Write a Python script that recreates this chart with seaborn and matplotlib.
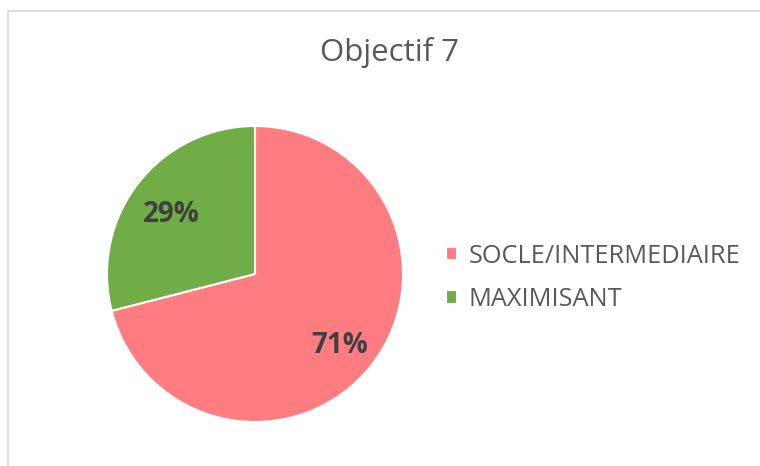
import matplotlib
matplotlib.use("Agg")
import matplotlib.pyplot as plt
import seaborn as sns
from matplotlib.patches import Rectangle

# Data
categories = ["SOCLE/INTERMEDIAIRE", "MAXIMISANT"]
values = [71, 29]
colors = ["#FF7C80", "#70AD47"]
title = "Objectif 7"

sns.set_theme(style="white")
plt.rcParams['font.family'] = ['Open Sans', 'DejaVu Sans']

fig = plt.figure(figsize=(7.6, 4.66), dpi=100)
fig.patch.set_facecolor("white")

# chart border (light gray), only left and top visible
fig.add_artist(Rectangle((8 / 760, -0.1), 1.2, (466 - 11) / 466 + 0.1,
                         transform=fig.transFigure, fill=False,
                         edgecolor="#D9D9D9", linewidth=1.2))

ax = fig.add_axes([107 / 760, 44 / 466, 296 / 760, 296 / 466])
wedges, texts, autotexts = ax.pie(
    values, colors=colors, startangle=90, counterclock=False,
    autopct=lambda p: f"{p:.0f}%", pctdistance=0.72, radius=1,
    wedgeprops=dict(edgecolor="white", linewidth=1.5),
    textprops=dict(fontsize=20, fontweight="bold", color="#404040"))
for t in autotexts:
    x, y = t.get_position()
    t.set_position((x, y - 0.04))
ax.set_xlim(-1, 1)
ax.set_ylim(-1, 1)
ax.set_aspect("equal")
ax.axis("off")

fig.text(390 / 760, 1 - 52 / 466, title, ha="center", va="center",
         fontsize=22.5, color="#595959")

leg = fig.legend(wedges, categories, loc="center left",
                 bbox_to_anchor=(446 / 760, 1 - 278 / 466), frameon=False,
                 fontsize=18.3, labelcolor="#595959", handlelength=0.43,
                 handleheight=0.43, handletextpad=0.45, labelspacing=0.72,
                 borderpad=0, borderaxespad=0)

fig.savefig("out.png", dpi=100, facecolor="white")
